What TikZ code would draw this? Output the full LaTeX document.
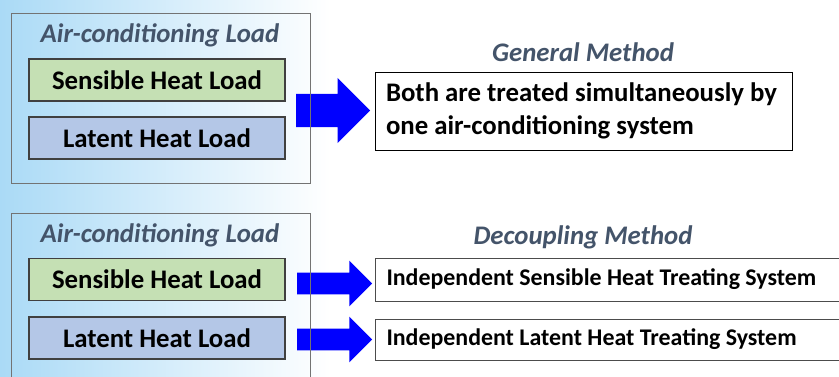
\documentclass[tikz,border=0pt]{standalone}
\usepackage{fontspec}
\setmainfont{Carlito}
\usepackage{xcolor}
\usepackage{tikz}
\usetikzlibrary{shapes.arrows}
\definecolor{bgblue}{RGB}{170,218,246}
\definecolor{sensgreen}{RGB}{197,224,180}
\definecolor{latblue}{RGB}{180,199,231}
\definecolor{slate}{RGB}{68,84,106}
\definecolor{arrowblue}{RGB}{0,0,255}
\tikzset{
 framebox/.style={draw=black!55, line width=1pt, minimum width=299, inner sep=0},
 loadbox/.style={draw=black!75, line width=1.2pt, minimum width=256, minimum height=42, inner sep=0,
   font=\bfseries\fontsize{26.8}{30}\selectfont},
 sensbox/.style={loadbox, fill=sensgreen},
 latbox/.style={loadbox, fill=latblue},
 headtxt/.style={font=\bfseries\itshape\fontsize{26.8}{30}\selectfont, text=slate},
 blockarrow/.style={single arrow, fill=arrowblue, inner xsep=0, single arrow tip angle=90, anchor=west},
 sysbox/.style={draw=black!70, line width=1pt, fill=white, anchor=west, align=flush left, inner xsep=11,
   inner ysep=0, text width=458, font=\bfseries\fontsize{23.9}{26}\selectfont}
}

\begin{document}
\begin{tikzpicture}[x=1pt,y=-1pt]
\useasboundingbox (0,0) rectangle (839,376);
\fill[white] (0,0) rectangle (839,376);
\shade[left color=bgblue, right color=white] (0,0) rectangle (330,376);

% general method
\node[blockarrow, inner ysep=16.5, minimum height=74, minimum width=65, single arrow head extend=16] (arrA) at (296,110.5) {};
\node[framebox, minimum height=170] (loadA) at (160.5,98) {};
\node[headtxt] (titleA) at (160,35) {Air-conditioning Load};
\node[sensbox] (sensA) at (157,80) {Sensible Heat Load};
\node[latbox] (latA) at (157,138) {Latent Heat Load};
\node[headtxt] (methA) at (583,52) {General Method};
\node[draw=black, line width=1pt, fill=white, minimum width=417, minimum height=78, text width=395,
  inner xsep=11, align=flush left, font=\bfseries\fontsize{26.8}{33}\selectfont] (genbox) at (583.5,111)
  {Both are treated simultaneously by\\one air-conditioning system};

% decoupling method
\node[blockarrow, inner ysep=10.75, minimum height=75, minimum width=45, single arrow head extend=12] (arrB1) at (297,283.5) {};
\node[blockarrow, inner ysep=10.75, minimum height=75, minimum width=45, single arrow head extend=12] (arrB2) at (297,339.5) {};
\node[framebox, minimum height=170] (loadB) at (160.5,298) {};
\node[headtxt] (titleB) at (160,235) {Air-conditioning Load};
\node[sensbox] (sensB) at (157,279.5) {Sensible Heat Load};
\node[latbox] (latB) at (157,338) {Latent Heat Load};
\node[headtxt] (methB) at (583,237) {Decoupling Method};
\node[sysbox, minimum height=43] (sysS) at (375,279.5) {Independent Sensible Heat Treating System};
\node[sysbox, minimum height=41] (sysL) at (375,339.5) {Independent Latent Heat Treating System};

\end{tikzpicture}
\end{document}
